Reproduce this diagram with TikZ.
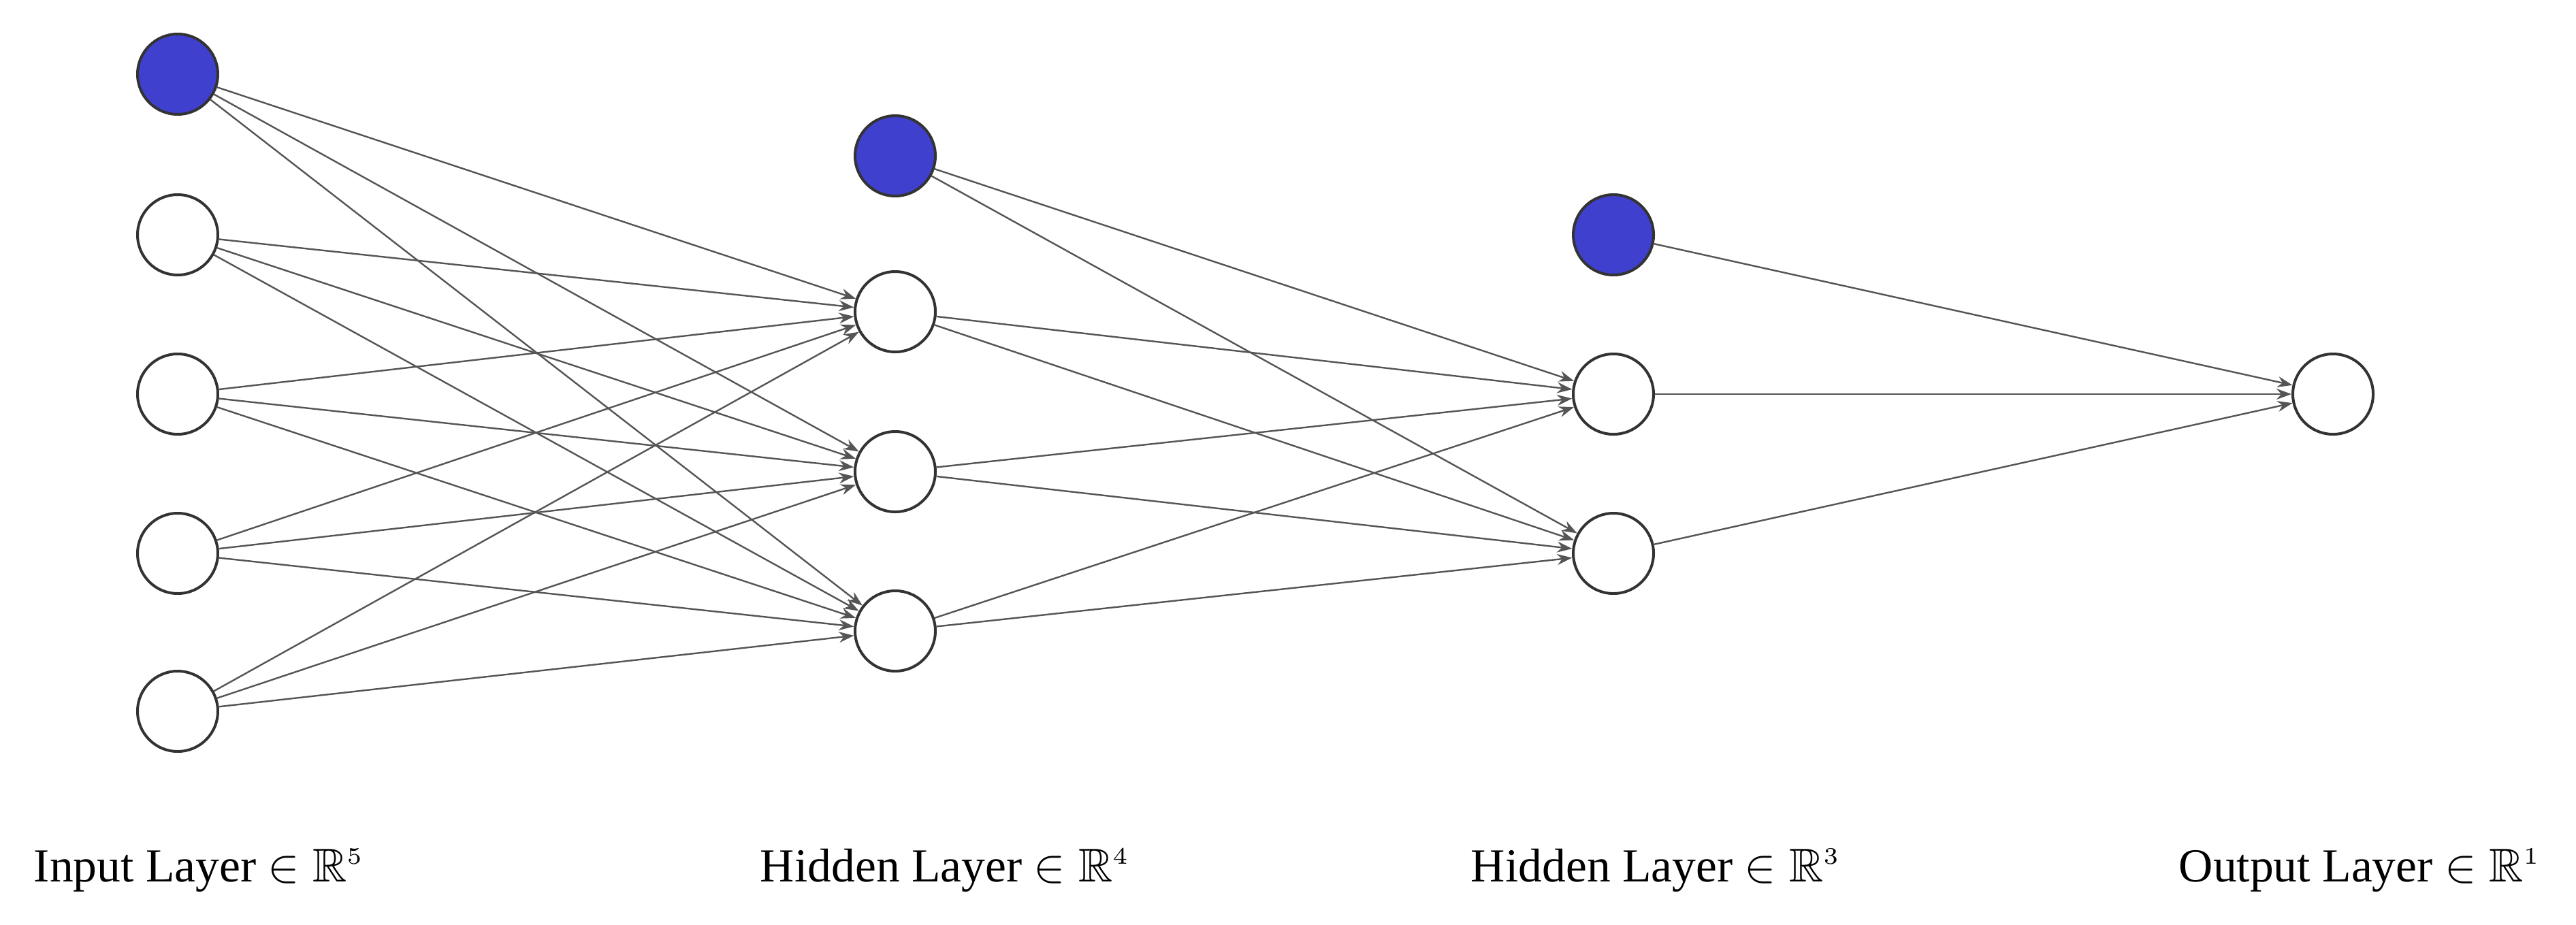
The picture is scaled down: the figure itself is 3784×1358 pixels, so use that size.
\documentclass[tikz,border=0pt]{standalone}
\usepackage{amssymb}
\usepackage{fontspec}
\setmainfont{Liberation Serif}
\usetikzlibrary{arrows.meta}
\definecolor{bias}{HTML}{4040CF}
\definecolor{edge}{HTML}{555555}
\begin{document}
\begin{tikzpicture}[x=1pt,y=-1pt,
  neuron/.style={circle,draw=black!80,line width=4pt,minimum size=118pt,inner sep=0pt,fill=white},
  biasn/.style={neuron,fill=bias},
  conn/.style={draw=edge,line width=2.4pt,-{Stealth[length=22pt,width=16pt]}},
  lab/.style={font=\large,scale=5.8,anchor=base}]
\useasboundingbox (0,0) rectangle (3784,1358);
\node[biasn] (i1) at (261,109) {};
\node[neuron] (i2) at (261,345) {};
\node[neuron] (i3) at (261,579) {};
\node[neuron] (i4) at (261,813) {};
\node[neuron] (i5) at (261,1045) {};
\node[biasn] (h1) at (1315,229) {};
\node[neuron] (h2) at (1315,458) {};
\node[neuron] (h3) at (1315,693) {};
\node[neuron] (h4) at (1315,927) {};
\node[biasn] (g1) at (2370,345) {};
\node[neuron] (g2) at (2370,579) {};
\node[neuron] (g3) at (2370,813) {};
\node[neuron] (o1) at (3427,579) {};
\foreach \a in {i1,i2,i3,i4,i5} \foreach \b in {h2,h3,h4} \draw[conn] (\a) -- (\b);
\foreach \a in {h1,h2,h3,h4} \foreach \b in {g2,g3} \draw[conn] (\a) -- (\b);
\foreach \a in {g1,g2,g3} \draw[conn] (\a) -- (o1);
\node[lab] (l1) at (292,1295) {Input Layer $\in\mathbb{R}^{\scriptscriptstyle 5}$};
\node[lab] (l2) at (1388,1295) {Hidden Layer $\in\mathbb{R}^{\scriptscriptstyle 4}$};
\node[lab] (l3) at (2432,1295) {Hidden Layer $\in\mathbb{R}^{\scriptscriptstyle 3}$};
\node[lab] (l4) at (3466,1295) {Output Layer $\in\mathbb{R}^{\scriptscriptstyle 1}$};
\end{tikzpicture}
\end{document}
